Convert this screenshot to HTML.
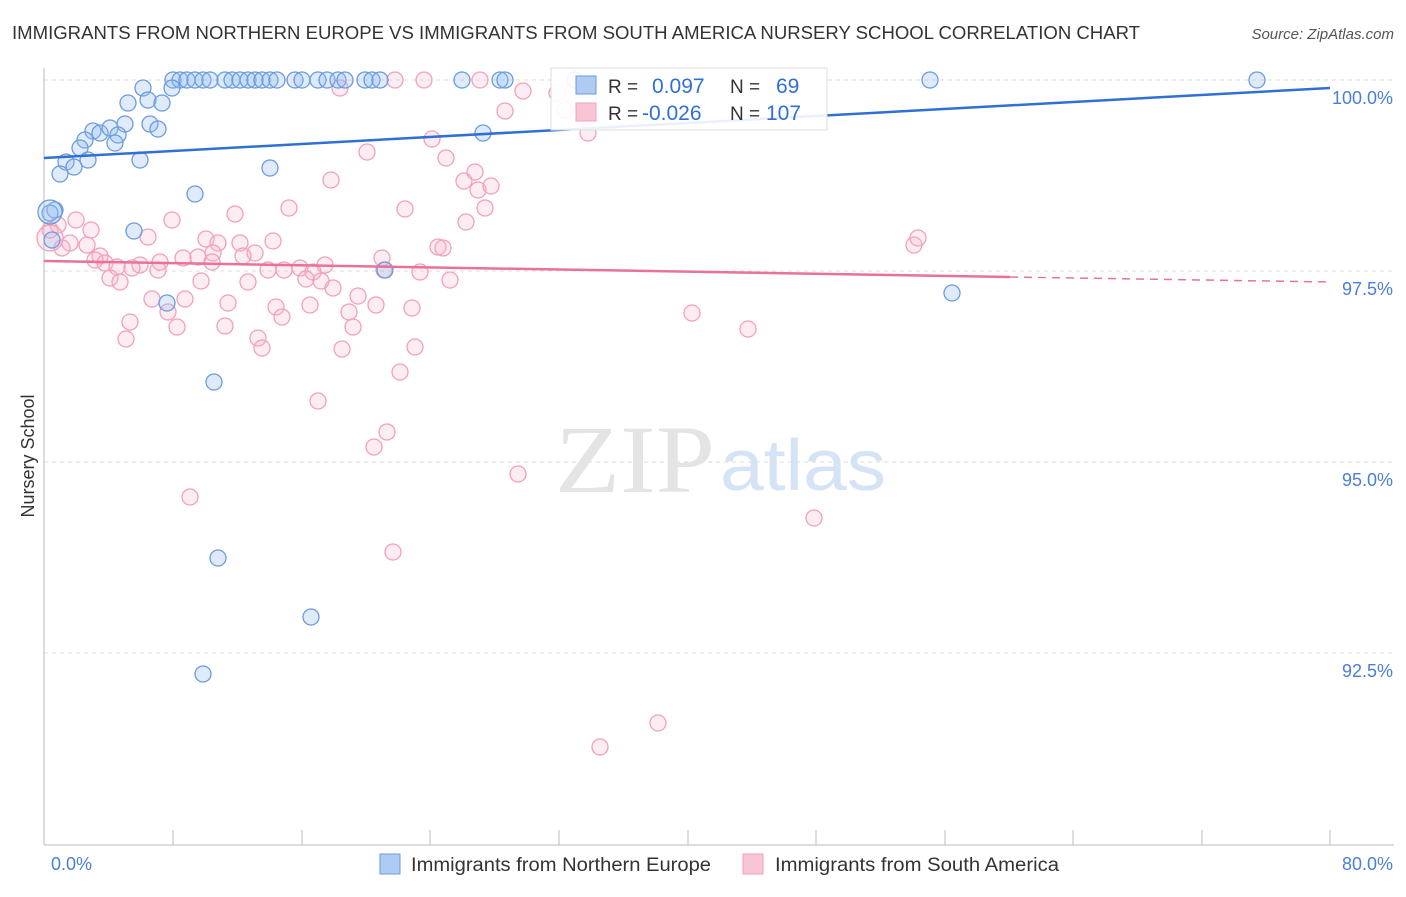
<!DOCTYPE html>
<html><head><meta charset="utf-8"><style>
body{margin:0;background:#fff;font-family:"Liberation Sans",sans-serif;}
</style></head><body>
<svg width="1406" height="892" xmlns="http://www.w3.org/2000/svg" font-family="Liberation Sans, sans-serif">
<rect width="1406" height="892" fill="#fff"/>
<text x="12" y="39" font-size="18" fill="#333" textLength="1128" lengthAdjust="spacingAndGlyphs">IMMIGRANTS FROM NORTHERN EUROPE VS IMMIGRANTS FROM SOUTH AMERICA NURSERY SCHOOL CORRELATION CHART</text>
<text x="1394" y="39" font-size="15" fill="#555" font-style="italic" text-anchor="end">Source: ZipAtlas.com</text>
<g stroke="#ddd" stroke-dasharray="4,4">
<line x1="44" y1="80" x2="1394" y2="80"/><line x1="44" y1="271" x2="1394" y2="271"/><line x1="44" y1="462" x2="1394" y2="462"/><line x1="44" y1="653" x2="1394" y2="653"/>
</g>
<line x1="44" y1="68" x2="44" y2="845" stroke="#bbb"/>
<line x1="44" y1="845" x2="1394" y2="845" stroke="#bbb"/>
<g stroke="#bbb">
<line x1="173" y1="830" x2="173" y2="845"/><line x1="302" y1="830" x2="302" y2="845"/><line x1="430" y1="830" x2="430" y2="845"/><line x1="559" y1="830" x2="559" y2="845"/><line x1="688" y1="830" x2="688" y2="845"/><line x1="816" y1="830" x2="816" y2="845"/><line x1="945" y1="830" x2="945" y2="845"/><line x1="1073" y1="830" x2="1073" y2="845"/><line x1="1202" y1="830" x2="1202" y2="845"/><line x1="1330" y1="830" x2="1330" y2="845"/>
</g>
<g font-size="18" fill="#4a7fd6" text-anchor="end">
<text x="1393" y="104">100.0%</text><text x="1393" y="295">97.5%</text><text x="1393" y="486">95.0%</text><text x="1393" y="677">92.5%</text>
<text x="92" y="870">0.0%</text><text x="1393" y="870">80.0%</text>
</g>
<text x="34" y="456" font-size="18" fill="#333" transform="rotate(-90 34 456)" text-anchor="middle">Nursery School</text>
<text x="555" y="492" font-size="96" fill="#e4e4e4" textLength="160" lengthAdjust="spacingAndGlyphs" font-family="Liberation Serif, serif">ZIP</text>
<text x="720" y="490" font-size="72" fill="#d4e3f5" textLength="166" lengthAdjust="spacingAndGlyphs">atlas</text>
<g id="pk" fill="rgba(248,180,200,0.25)" stroke="#f2a0b8" stroke-width="1.3"></g>
<g id="bl" fill="rgba(150,190,240,0.3)" stroke="#6a9be0" stroke-width="1.3"></g>
<line x1="44" y1="158" x2="1330" y2="88" stroke="#2f6fd6" stroke-width="2.5"/>
<line x1="44" y1="261" x2="1010" y2="277" stroke="#e8729a" stroke-width="2.5"/>
<line x1="1010" y1="277" x2="1330" y2="282" stroke="#e8729a" stroke-width="1.5" stroke-dasharray="8,6"/>
<rect x="551" y="68" width="276" height="62" fill="#fff" fill-opacity="0.9" stroke="#ddd"/>
<rect x="576" y="76" width="20" height="18" fill="#aecbf2" stroke="#6a9be0"/>
<rect x="576" y="103" width="20" height="18" fill="#f9c4d4" stroke="#f2a0b8"/>
<g font-size="19"><text x="608" y="93" fill="#333">R =</text><text x="652" y="93" fill="#2f6fd6" font-size="21">0.097</text><text x="730" y="93" fill="#333">N =</text><text x="776" y="93" fill="#2f6fd6" font-size="21">69</text>
<text x="608" y="120" fill="#333">R =</text><text x="642" y="120" fill="#2f6fd6" font-size="21">-0.026</text><text x="730" y="120" fill="#333">N =</text><text x="766" y="120" fill="#2f6fd6" font-size="21">107</text></g>
<rect x="380" y="854" width="20" height="20" fill="#aecbf2" stroke="#6a9be0"/>
<text x="411" y="871" font-size="19" fill="#333" textLength="300" lengthAdjust="spacingAndGlyphs">Immigrants from Northern Europe</text>
<rect x="743" y="854" width="20" height="20" fill="#f9c4d4" stroke="#f2a0b8"/>
<text x="775" y="871" font-size="19" fill="#333" textLength="284" lengthAdjust="spacingAndGlyphs">Immigrants from South America</text>
</svg>
<script>
var B=[[173,80],[180,80],[187,80],[195,80],[203,80],[210,80],[225,80],[232,80],[240,80],[248,80],[255,80],[262,80],[270,80],[277,80],[295,80],[302,80],[318,80],[327,80],[338,80],[345,80],[365,80],[372,80],[380,80],[462,80],[500,80],[505,80],[575,80],[930,80],[1257,80],[143,88],[172,88],[128,103],[148,100],[162,103],[125,124],[150,124],[158,129],[93,131],[100,133],[110,128],[118,135],[85,140],[80,148],[115,143],[140,160],[66,162],[74,167],[60,174],[88,160],[270,168],[195,194],[483,133],[55,210],[50,213],[134,231],[52,240],[385,270],[167,303],[952,293],[214,382],[218,558],[311,617],[203,674]];
var P=[[340,88],[395,80],[424,80],[480,80],[523,91],[557,93],[565,110],[505,111],[588,133],[432,139],[446,158],[367,152],[475,172],[464,181],[478,190],[491,186],[331,180],[405,209],[485,208],[466,222],[289,208],[235,214],[172,220],[76,220],[58,225],[91,230],[148,237],[206,239],[218,243],[240,243],[273,241],[70,243],[87,245],[438,247],[443,248],[914,245],[918,238],[213,253],[198,257],[183,258],[100,256],[95,260],[105,263],[160,262],[140,265],[132,268],[117,267],[158,270],[382,258],[384,270],[268,270],[255,253],[243,256],[212,262],[325,265],[300,268],[284,270],[313,272],[420,272],[450,280],[110,278],[120,282],[201,281],[248,282],[306,279],[321,281],[333,288],[358,296],[376,305],[412,308],[152,299],[185,299],[228,303],[276,307],[282,317],[168,312],[349,312],[310,305],[353,327],[130,322],[177,327],[225,326],[258,338],[126,339],[262,348],[342,349],[415,347],[692,313],[748,329],[400,372],[318,401],[387,432],[374,447],[190,497],[518,474],[814,518],[393,552],[658,723],[600,747],[50,230],[62,248]];
function add(id,arr){var g=document.getElementById(id),s='';arr.forEach(function(p){s+='<circle cx="'+p[0]+'" cy="'+p[1]+'" r="8"/>';});g.innerHTML=s;}
add('pk',P);add('bl',B);
document.getElementById('bl').innerHTML+='<circle cx="50" cy="212" r="12"/>';
document.getElementById('pk').innerHTML+='<circle cx="50" cy="238" r="13"/>';
</script>
</body></html>
